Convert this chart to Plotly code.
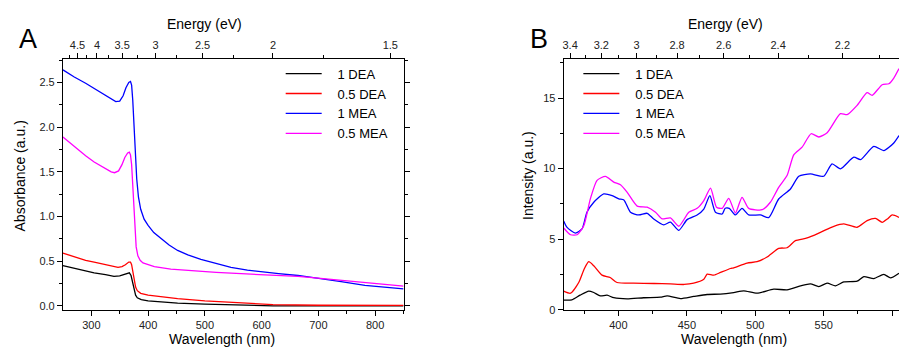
import plotly.graph_objects as go

# ---------------- Panel A: absorbance ----------------
a_wl_1mea = [250, 270, 290, 305, 320, 335, 343, 350, 356, 361, 366, 369, 371, 373, 375, 377, 380, 383, 387, 393,
             400, 410, 423, 437, 452, 470, 493, 520, 546, 575, 600, 630, 664, 699, 740, 782, 820, 850]
a_abs_1mea = [2.64, 2.56, 2.49, 2.43, 2.37, 2.31, 2.285, 2.29, 2.35, 2.44, 2.50, 2.51, 2.47, 2.30, 2.00, 1.75, 1.42,
              1.22, 1.08, 0.97, 0.90, 0.82, 0.75, 0.68, 0.62, 0.57, 0.52, 0.47, 0.43, 0.40, 0.38, 0.36, 0.34, 0.31,
              0.27, 0.23, 0.21, 0.19]

a_wl_05mea = [250, 270, 290, 305, 320, 335, 341, 348, 354, 359, 364, 367, 369, 371, 373, 375, 377, 379, 382, 386,
              391, 400, 411, 440, 482, 520, 564, 610, 664, 699, 740, 782, 820, 850]
a_abs_05mea = [1.89, 1.78, 1.68, 1.61, 1.55, 1.50, 1.49, 1.51, 1.58, 1.66, 1.71, 1.72, 1.69, 1.58, 1.35, 1.10, 0.82,
               0.66, 0.56, 0.51, 0.48, 0.46, 0.44, 0.41, 0.39, 0.375, 0.36, 0.345, 0.33, 0.31, 0.285, 0.26, 0.24, 0.22]

a_wl_05dea = [250, 270, 290, 305, 325, 347, 354, 360, 366, 369, 371, 373, 375, 378, 381, 387, 400, 425, 452, 500,
              564, 620, 700, 850]
a_abs_05dea = [0.59, 0.55, 0.51, 0.49, 0.46, 0.43, 0.44, 0.46, 0.49, 0.49, 0.46, 0.38, 0.29, 0.21, 0.17, 0.14, 0.12,
               0.10, 0.08, 0.055, 0.03, 0.015, 0.007, 0.005]

a_wl_1dea = [250, 270, 290, 305, 325, 340, 350, 358, 364, 367, 370, 373, 375, 378, 381, 388, 400, 425, 452, 500,
             564, 620, 850]
a_abs_1dea = [0.45, 0.42, 0.39, 0.37, 0.35, 0.33, 0.335, 0.35, 0.37, 0.37, 0.34, 0.26, 0.19, 0.12, 0.09, 0.07, 0.055,
              0.04, 0.03, 0.02, 0.005, 0.0, 0.0]

# ---------------- Panel B: intensity ----------------
b_wl_1dea = [360, 366, 372, 378.3, 382, 386.8, 391.7, 396.6, 406.3, 418.5, 430.7, 435.6, 445.3, 455, 464.8, 474.5,
             484.2, 491.6, 501.3, 513.5, 523.2, 533, 540.3, 546.4, 552.5, 558.6, 564.7, 574.4, 579.3, 586.6, 593.9,
             598.8, 605]
b_int_1dea = [0.69, 0.71, 1.04, 1.33, 1.23, 0.99, 1.04, 0.86, 0.78, 0.86, 0.90, 0.99, 0.80, 0.95, 1.09, 1.12, 1.23,
              1.35, 1.18, 1.47, 1.42, 1.70, 1.84, 1.65, 1.89, 1.70, 1.98, 2.03, 2.36, 2.22, 2.51, 2.27, 2.60]

b_wl_05dea = [360, 365, 371, 375, 378.3, 382, 388, 394, 399, 411, 426, 438, 448, 455, 462.4, 464.8, 469.7, 474.6,
              481.9, 484.2, 494, 501.3, 508.6, 517.1, 523.2, 529.3, 537.9, 547.6, 557.4, 564.7, 574.4, 581.7, 587.8,
              592.7, 596.4, 600, 605]
b_int_05dea = [1.33, 1.18, 1.94, 2.9, 3.41, 3.12, 2.46, 2.29, 1.94, 1.89, 1.87, 1.84, 1.80, 1.89, 2.17, 2.53, 2.46,
               2.65, 2.93, 2.98, 3.31, 3.41, 3.74, 4.36, 4.40, 4.90, 5.09, 5.49, 5.92, 6.09, 5.85, 6.32, 6.48, 6.20,
               6.43, 6.72, 6.55]

b_wl_1mea = [360, 362.5, 368.6, 373.4, 377, 382, 389.3, 395.4, 400.3, 404, 408.8, 414.9, 421, 425.8, 433.1, 438,
             444.1, 450.2, 457.5, 462.4, 466.8, 470.9, 475.8, 478, 481, 485.5, 490.3, 495.2, 503.7, 509.8, 517.1,
             525.7, 531.8, 540.3, 550, 556.1, 562.2, 572, 576.9, 586.6, 593.9, 601.2, 605]
b_int_1mea = [6.3, 5.84, 5.44, 5.73, 6.91, 7.62, 8.21, 8.09, 7.86, 7.78, 6.91, 6.72, 6.84, 6.44, 6.02, 6.21, 5.63,
              6.39, 6.72, 7.14, 8.09, 6.91, 6.79, 7.2, 7.19, 6.72, 7.19, 6.72, 6.72, 6.53, 7.85, 8.56, 9.46, 9.63,
              9.46, 10.34, 9.98, 10.81, 10.64, 11.58, 11.28, 11.82, 12.34]

b_wl_05mea = [360, 365, 369.8, 374.7, 379.5, 384.4, 390.5, 396.6, 401.5, 406.3, 413.7, 421, 427.1, 431.9, 438,
              444.1, 451.4, 457.5, 462.4, 467.3, 471.7, 475.8, 480.6, 485.5, 490.3, 495.2, 505, 511, 517.1, 523.2,
              528.1, 534.2, 540.8, 546.4, 552.5, 562.2, 567.1, 574.4, 581.7, 585.4, 592.7, 597.6, 601.2, 605]
b_int_05mea = [5.8, 5.32, 5.32, 5.96, 7.86, 9.17, 9.45, 9.05, 8.86, 8.34, 7.35, 7.27, 6.91, 6.44, 6.51, 5.92, 6.91,
               7.19, 7.74, 8.62, 7.27, 7.19, 7.90, 6.86, 7.97, 7.19, 7.09, 7.62, 8.68, 9.51, 10.98, 11.52, 12.47,
               12.24, 12.54, 13.89, 13.82, 14.48, 15.38, 15.19, 15.94, 16.01, 16.41, 17.08]

series_names = ["1 DEA", "0.5 DEA", "1 MEA", "0.5 MEA"]
series_colors = ["#000000", "#ff0000", "#0000ff", "#ff00ff"]

# tick labels
a_x_ticks = [300, 400, 500, 600, 700, 800]
a_y_ticks = [0.0, 0.5, 1.0, 1.5, 2.0, 2.5]
a_energy_major = [4.5, 4.0, 3.5, 3.0, 2.5, 2.0, 1.5]
a_energy_labels = ["4.5", "4", "3.5", "3", "2.5", "2", "1.5"]
a_energy_minor = [4.75, 4.25, 3.75, 3.25, 2.75, 2.25, 1.75]
b_x_ticks = [400, 450, 500, 550, 600]
b_y_ticks = [0, 5, 10, 15]
b_energy_major = [3.4, 3.2, 3.0, 2.8, 2.6, 2.4, 2.2]
b_energy_labels = ["3.4", "3.2", "3", "2.8", "2.6", "2.4", "2.2"]
b_energy_minor = [3.3, 3.1, 2.9, 2.7, 2.5, 2.3, 2.1]

HC = 1240.0
W, H = 899, 347          # target picture size (layout coordinates below are in these pixels)
CANVAS_H = 354           # rendered height (the photograph is squeezed back to 347)
FONT = "Arial, Liberation Sans, sans-serif"
PAD = "\u00a0\u00a0\u00a0"

fig = go.Figure()

a_data = [(a_wl_1dea, a_abs_1dea), (a_wl_05dea, a_abs_05dea), (a_wl_1mea, a_abs_1mea), (a_wl_05mea, a_abs_05mea)]
b_data = [(b_wl_1dea, b_int_1dea), (b_wl_05dea, b_int_05dea), (b_wl_1mea, b_int_1mea), (b_wl_05mea, b_int_05mea)]

for (x, y), name, col in zip(a_data, series_names, series_colors):
    fig.add_trace(go.Scatter(x=x, y=y, mode="lines", name=PAD + name, line=dict(color=col, width=1.3),
                             xaxis="x", yaxis="y", legend="legend", hoverinfo="skip"))
for (x, y), name, col in zip(b_data, series_names, series_colors):
    fig.add_trace(go.Scatter(x=x, y=y, mode="lines", name=PAD + name,
                             line=dict(color=col, width=1.3, shape="spline", smoothing=0.6),
                             xaxis="x3", yaxis="y2", legend="legend2", hoverinfo="skip"))

# invisible traces so the top energy axes get drawn
fig.add_trace(go.Scatter(x=a_wl_1dea, y=a_abs_1dea, mode="lines", line=dict(width=0, color="rgba(0,0,0,0)"),
                         xaxis="x2", yaxis="y", showlegend=False, hoverinfo="skip"))
fig.add_trace(go.Scatter(x=b_wl_1dea, y=b_int_1dea, mode="lines", line=dict(width=0, color="rgba(0,0,0,0)"),
                         xaxis="x4", yaxis="y2", showlegend=False, hoverinfo="skip"))

def px_x(p):
    return p / W

def px_y(p):
    return 1 - p / H

A_L, A_R = 62, 403
B_L, B_R = 563.3, 899
TOP, BOT = 59, 309

tickfont = dict(family=FONT, size=11, color="#222")
common = dict(showline=True, linecolor="black", linewidth=1, ticks="outside", ticklen=5, tickwidth=1,
              tickcolor="black", showgrid=False, zeroline=False, tickfont=tickfont)

def minor(vals):
    return dict(tickmode="array", tickvals=vals, ticks="outside", ticklen=3, tickcolor="black")

fig.update_layout(
    width=W, height=CANVAS_H, margin=dict(l=0, r=0, t=0, b=0),
    paper_bgcolor="white", plot_bgcolor="white",
    font=dict(family=FONT, color="black"),
    xaxis=dict(domain=[px_x(A_L), px_x(A_R)], range=[250, 850], anchor="y",
               tickmode="array", tickvals=a_x_ticks, ticktext=[str(v) for v in a_x_ticks],
               minor=minor([v + 50 for v in a_x_ticks]), **common),
    xaxis2=dict(overlaying="x", side="top", range=[250, 850], anchor="y",
                tickmode="array", tickvals=[HC / e for e in a_energy_major], ticktext=a_energy_labels,
                minor=minor([HC / e for e in a_energy_minor]), **common),
    yaxis=dict(domain=[px_y(BOT), px_y(TOP)], range=[-0.045, 2.76], anchor="x", mirror="ticks",
               tickmode="array", tickvals=a_y_ticks, ticktext=["%.1f" % v for v in a_y_ticks],
               minor=minor([v + 0.25 for v in a_y_ticks]), **common),
    xaxis3=dict(domain=[px_x(B_L), px_x(B_R)], range=[360, 605], anchor="y2",
                tickmode="array", tickvals=b_x_ticks, ticktext=[str(v) for v in b_x_ticks],
                minor=minor([375, 425, 475, 525, 575]), **common),
    xaxis4=dict(overlaying="x3", side="top", range=[360, 605], anchor="y2",
                tickmode="array", tickvals=[HC / e for e in b_energy_major], ticktext=b_energy_labels,
                minor=minor([HC / e for e in b_energy_minor]), **common),
    yaxis2=dict(domain=[px_y(BOT), px_y(TOP)], range=[0, 17.75], anchor="x3",
                tickmode="array", tickvals=b_y_ticks, ticktext=[str(v) for v in b_y_ticks],
                minor=minor([v + 2.5 for v in b_y_ticks]), **common),
    legend=dict(x=px_x(280), y=px_y(58.5), xanchor="left", yanchor="top", bgcolor="rgba(0,0,0,0)",
                font=dict(family=FONT, size=13, color="black"), itemwidth=36, tracegroupgap=0),
    legend2=dict(x=px_x(578), y=px_y(58.5), xanchor="left", yanchor="top", bgcolor="rgba(0,0,0,0)",
                 font=dict(family=FONT, size=13, color="black"), itemwidth=36, tracegroupgap=0),
)

ann = []
def add_text(text, x, y, size, angle=0):
    ann.append(dict(text=text, x=px_x(x), y=px_y(y), xref="paper", yref="paper", showarrow=False,
                    xanchor="center", yanchor="middle", textangle=angle,
                    font=dict(family=FONT, size=size, color="black")))

add_text("A", 27, 39, 27)
add_text("B", 539, 39, 27)
add_text("Energy (eV)", 204, 24, 14)
add_text("Energy (eV)", 725, 24, 14)
add_text("Wavelength (nm)", 221, 338, 14)
add_text("Wavelength (nm)", 734, 338, 14)
add_text("Absorbance (a.u.)", 19, 175, 14, -90)
add_text("Intensity (a.u.)", 527, 175, 14, -90)
fig.update_layout(annotations=ann)

page_fix = (
    "document.documentElement.style.margin='0';"
    "document.documentElement.style.overflow='hidden';"
    "document.body.style.margin='0';"
    "document.body.style.overflow='hidden';"
    "var gd=document.getElementById('{plot_id}');"
    "gd.style.position='fixed';gd.style.left='0px';gd.style.top='0px';"
)

fig.write_html("out.html", config={"displayModeBar": False}, post_script=page_fix)
